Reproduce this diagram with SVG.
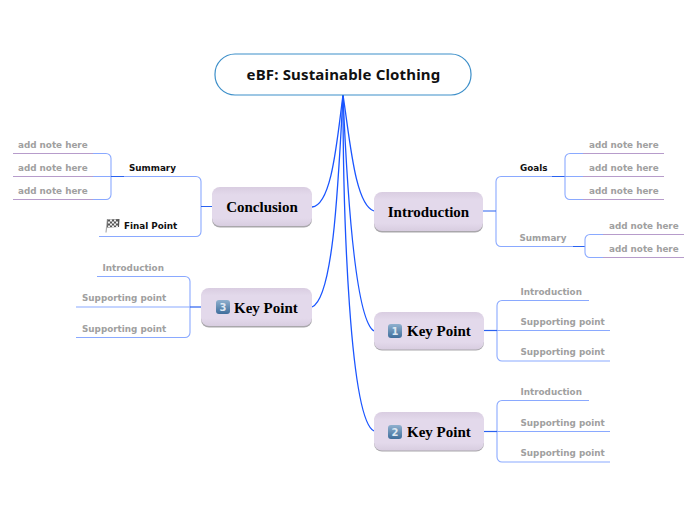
<svg xmlns="http://www.w3.org/2000/svg" width="696" height="520" viewBox="0 0 696 520">
<style>
.lb{font-family:"DejaVu Sans",sans-serif;font-weight:700;font-size:8.8px;fill:#a0a0a0}
.bk{font-family:"DejaVu Sans",sans-serif;font-weight:700;font-size:8.8px;fill:#111}
.nt{font-family:"Liberation Serif",serif;font-weight:700;font-size:15px;fill:#000}
.dg{font-family:"DejaVu Sans",sans-serif;font-weight:700;font-size:10px;fill:#dfe8f2;text-anchor:middle}
.main{fill:none;stroke:#1a55ff;stroke-width:1.3}
.sub{fill:none;stroke:#8aa9ff;stroke-width:1.1}
.stub{fill:none;stroke:#2a62f0;stroke-width:1.2}
.pur{fill:none;stroke:#b79ccb;stroke-width:1.1}
.sh{fill:#a9a7ab}
.bx{fill:url(#ng)}
.ic{fill:url(#ig)}
</style>
<defs>
<linearGradient id="ng" x1="0" y1="0" x2="0" y2="1">
<stop offset="0" stop-color="#d9cde1"/><stop offset="0.2" stop-color="#e3d9eb"/><stop offset="0.8" stop-color="#e3d9eb"/><stop offset="1" stop-color="#d8cde0"/>
</linearGradient>
<linearGradient id="ig" x1="0" y1="0" x2="0" y2="1">
<stop offset="0" stop-color="#8fb0ce"/><stop offset="1" stop-color="#3f6e9c"/>
</linearGradient>
</defs>
<g id="connectors">
<path class="main" d="M343 95C337 140 332 205 312 207"/>
<path class="main" d="M343 95C338 190 333 298 312 307"/>
<path class="main" d="M343 95C350 140 355 205 374 211"/>
<path class="main" d="M343 95C347 190 355 320 374 331"/>
<path class="main" d="M343 95C343 220 350 420 374 431"/>
<path class="sub" d="M13 153.500H106a5 5 0 0 1 5 5V194.500a5 5 0 0 1-5 5H13"/>
<path class="sub" d="M13 176.500H124"/>
<path class="pur" d="M13 153.500H93M13 176.500H93M13 199.500H93"/>
<path class="sub" d="M124 176.500H196a5 5 0 0 1 5 5V231.500a5 5 0 0 1-5 5H99"/>
<path class="stub" d="M201 206.500H212M111 176.500H124"/>
<path class="sub" d="M97 276.500H185a5 5 0 0 1 5 5V332.500a5 5 0 0 1-5 5H76"/>
<path class="sub" d="M76 307H190"/>
<path class="stub" d="M190 307H201"/>
<path class="sub" d="M501 176.500a5 5 0 0 0-5 5V241.500a5 5 0 0 0 5 5H585M501 176.500H565"/>
<path class="stub" d="M483 211H496M552 176.500H565M573 246.500H585"/>
<path class="sub" d="M583 153.500H570a5 5 0 0 0-5 5V194.500a5 5 0 0 0 5 5H583M565 176.500H583"/>
<path class="pur" d="M583 153.500H664M583 176.500H664M583 199.500H664"/>
<path class="sub" d="M603 234.500H590a5 5 0 0 0-5 5V252.500a5 5 0 0 0 5 5H603"/>
<path class="pur" d="M603 234.500H684M603 257.500H684"/>
<path class="sub" d="M589 300.500H502a5 5 0 0 0-5 5V356a5 5 0 0 0 5 5H610M497 330.500H610"/>
<path class="stub" d="M484 330.500H497"/>
<path class="sub" d="M589 400.500H502a5 5 0 0 0-5 5V457a5 5 0 0 0 5 5H610M497 431.500H610"/>
<path class="stub" d="M484 431.500H497"/>
</g>
<g id="root">
<rect x="215" y="54" width="256" height="41" rx="20" fill="#fff" stroke="#3d8fc9" stroke-width="1.2"/>
<text x="343.500" y="79.500" text-anchor="middle" font-family="Noto Sans, sans-serif" font-weight="700" font-size="15" letter-spacing="0.16" fill="#111">eBF: Sustainable Clothing</text>
</g>
<g id="conclusion">
<rect class="sh" x="212" y="189" width="100" height="38.500" rx="8"/>
<rect class="bx" x="212" y="187" width="100" height="39" rx="8"/>
<text class="nt" x="262" y="212" text-anchor="middle">Conclusion</text>
</g>
<g id="kp3">
<rect class="sh" x="201" y="290" width="111" height="37.500" rx="8"/>
<rect class="bx" x="201" y="288" width="111" height="38" rx="8"/>
<rect class="ic" x="216" y="300" width="14" height="14" rx="3"/>
<text class="dg" x="223" y="311">3</text>
<text class="nt" x="234" y="313">Key Point</text>
</g>
<g id="intro">
<rect class="sh" x="374" y="194" width="109" height="38.500" rx="8"/>
<rect class="bx" x="374" y="192" width="109" height="39" rx="8"/>
<text class="nt" x="428.500" y="217" text-anchor="middle">Introduction</text>
</g>
<g id="kp1">
<rect class="sh" x="374" y="314" width="110" height="36.500" rx="8"/>
<rect class="bx" x="374" y="312" width="110" height="37.500" rx="8"/>
<rect class="ic" x="388" y="324" width="14" height="14" rx="3"/>
<text class="dg" x="395" y="335">1</text>
<text class="nt" x="407" y="336">Key Point</text>
</g>
<g id="kp2">
<rect class="sh" x="374" y="414" width="110" height="37.500" rx="8"/>
<rect class="bx" x="374" y="412" width="110" height="38.500" rx="8"/>
<rect class="ic" x="388" y="425" width="14" height="14" rx="3"/>
<text class="dg" x="395" y="436">2</text>
<text class="nt" x="407" y="437">Key Point</text>
</g>
<g id="left-notes">
<text class="lb" x="18" y="148">add note here</text>
<text class="lb" x="18" y="171">add note here</text>
<text class="lb" x="18" y="194">add note here</text>
<text class="bk" x="129" y="171">Summary</text>
<text class="bk" x="124" y="229">Final Point</text>
<g id="flag">
<path d="M106 232.500L107.500 219" stroke="#aaa" stroke-width="1.200" fill="none"/>
<path d="M107.500 219.500L119.500 219L119 227L107 227.500Z" fill="#555"/>
<path d="M110 219.500h2v2h-2zM114 219.500h2v2h-2zM108 221.500h2v2h-2zM112 221.500h2v2h-2zM116 221.500h2v2h-2zM110 223.500h2v2h-2zM114 223.500h2v2h-2zM108 225.500h2v1.500h-2zM112 225.500h2v1.500h-2zM116 225.500h2v1.500h-2z" fill="#eee"/>
</g>
<text class="lb" x="102.500" y="271">Introduction</text>
<text class="lb" x="82" y="301">Supporting point</text>
<text class="lb" x="82" y="332">Supporting point</text>
</g>
<g id="right-notes">
<text class="bk" x="520" y="171">Goals</text>
<text class="lb" x="519.500" y="241">Summary</text>
<text class="lb" x="589" y="148">add note here</text>
<text class="lb" x="589" y="171">add note here</text>
<text class="lb" x="589" y="194">add note here</text>
<text class="lb" x="609" y="229">add note here</text>
<text class="lb" x="609" y="252">add note here</text>
<text class="lb" x="520.500" y="295">Introduction</text>
<text class="lb" x="520.500" y="325">Supporting point</text>
<text class="lb" x="520.500" y="355">Supporting point</text>
<text class="lb" x="520.500" y="395">Introduction</text>
<text class="lb" x="520.500" y="426">Supporting point</text>
<text class="lb" x="520.500" y="456">Supporting point</text>
</g>
</svg>
